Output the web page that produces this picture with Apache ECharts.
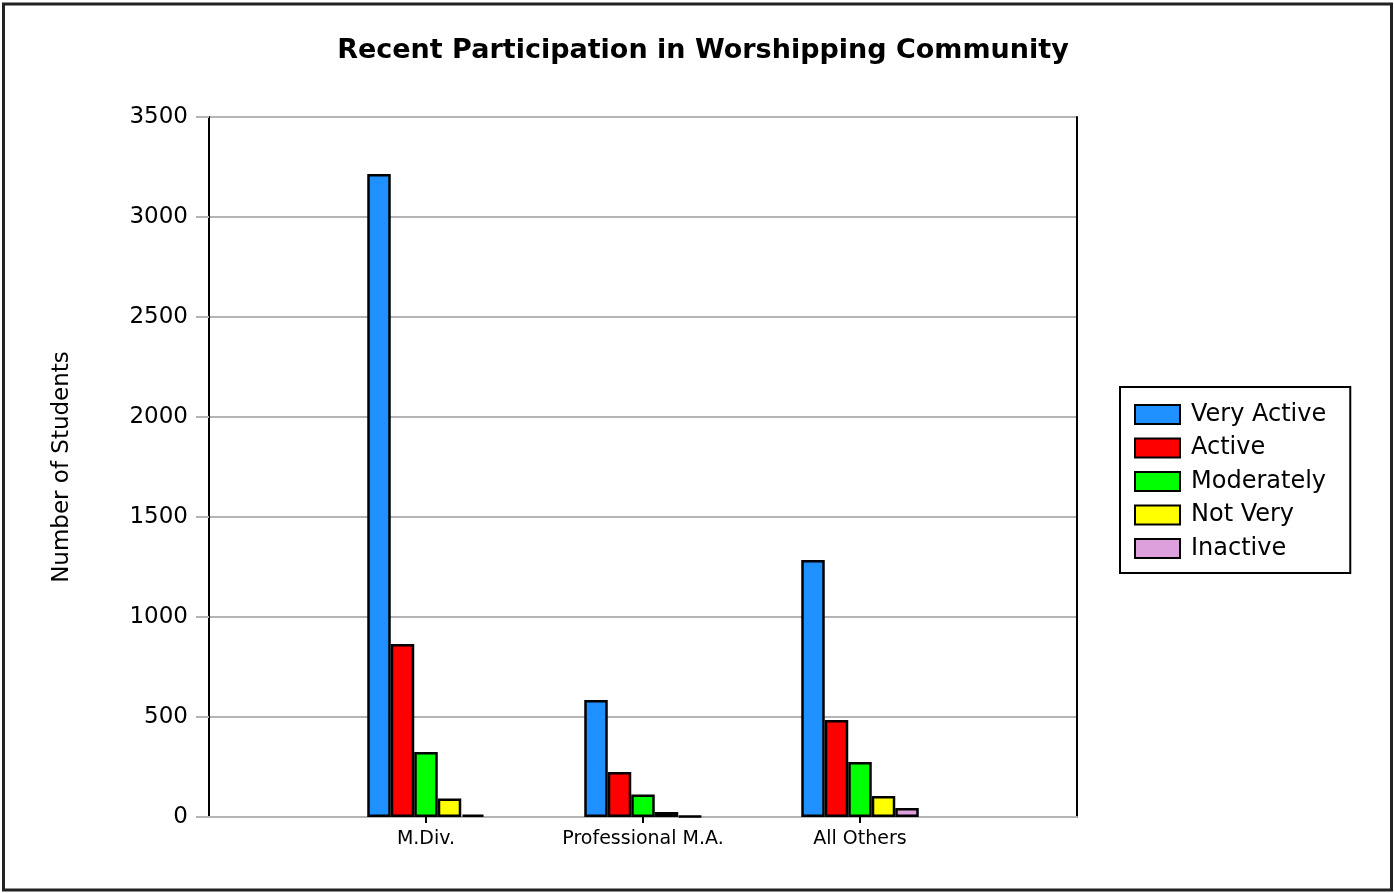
<!DOCTYPE html>
<html>
<head>
<meta charset="utf-8">
<script src="https://cdn.jsdelivr.net/npm/echarts@6/dist/echarts.min.js"></script>
<style>
html,body{margin:0;padding:0;background:#fff;}
#chart{width:1394px;height:893px;}
</style>
</head>
<body>
<div id="chart"></div>
<script>
const categories = ['M.Div.', 'Professional M.A.', 'All Others'];
const seriesNames = ['Very Active', 'Active', 'Moderately', 'Not Very', 'Inactive'];
const veryActive = [3215, 585, 1285];
const active = [865, 225, 485];
const moderately = [325, 113, 275];
const notVery = [92, 25, 105];
const inactive = [12, 4, 45];
const yTicks = [0, 500, 1000, 1500, 2000, 2500, 3000, 3500];
const colors = ['#1E90FF', '#FF0000', '#00FF00', '#FFFF00', '#DDA0DD'];

const values = [veryActive, active, moderately, notVery, inactive];
const paddedCats = [''].concat(categories, ['']);
const FONT = 'DejaVu Sans';

const chart = echarts.init(document.getElementById('chart'), null, {renderer: 'canvas'});
const option = {
  backgroundColor: '#ffffff',
  animation: false,
  title: {
    text: 'Recent Participation in Worshipping Community',
    left: 698, top: 32, textAlign: 'center',
    textStyle: {fontFamily: FONT, fontWeight: 'bold', fontSize: 27, color: '#000'}
  },
  legend: {
    orient: 'vertical',
    left: 1120, top: 387,
    data: seriesNames,
    itemWidth: 45, itemHeight: 19,
    itemGap: 9.5,
    icon: 'rect',
    padding: [15.5, 24, 12.5, 14],
    borderColor: '#000', borderWidth: 2,
    textStyle: {fontFamily: FONT, fontSize: 24, color: '#000', lineHeight: 24, padding: [0, 0, 0, 6]},
    itemStyle: {borderColor: '#000', borderWidth: 2}
  },
  grid: {left: 209, right: 317, top: 117, bottom: 76, containLabel: false},
  xAxis: {
    type: 'category',
    data: paddedCats,
    boundaryGap: false,
    axisLine: {show: true, lineStyle: {color: '#b4b4b4', width: 2}},
    axisTick: {show: true, length: 6, lineStyle: {color: '#000', width: 2},
      interval: function (idx) { return idx > 0 && idx < paddedCats.length - 1; }},
    axisLabel: {fontFamily: FONT, fontSize: 19, color: '#000', margin: 13, interval: 0},
    splitLine: {show: false}
  },
  yAxis: [{
    type: 'value',
    min: 0, max: 3500, interval: 500,
    name: 'Number of Students',
    nameLocation: 'middle',
    nameGap: 135,
    nameRotate: 90,
    nameTextStyle: {fontFamily: FONT, fontSize: 23, color: '#000'},
    axisLine: {show: true, lineStyle: {color: '#000', width: 2}},
    axisTick: {show: true, length: 13, lineStyle: {color: '#b4b4b4', width: 2}},
    axisLabel: {fontFamily: FONT, fontSize: 23, color: '#000', margin: 21,
      formatter: function (v) { return yTicks.indexOf(v) >= 0 ? String(v) : ''; }},
    splitLine: {show: true, lineStyle: {color: '#b4b4b4', width: 2}}
  }, {
    type: 'value',
    position: 'right',
    min: 0, max: 3500, interval: 500,
    axisLine: {show: true, lineStyle: {color: '#000', width: 2}},
    axisTick: {show: false},
    axisLabel: {show: false},
    splitLine: {show: false}
  }],
  series: seriesNames.map(function (name, i) {
    return {
      name: name,
      type: 'bar',
      barWidth: 23.5,
      barGap: '0%',
      data: ['-'].concat(values[i], ['-']),
      itemStyle: {color: colors[i], borderColor: '#000', borderWidth: 2.5}
    };
  }),
  graphic: [{
    type: 'rect',
    shape: {x: 3.5, y: 4, width: 1388, height: 886},
    style: {fill: null, stroke: '#222', lineWidth: 3},
    silent: true,
    z: 100
  }]
};
chart.setOption(option);
</script>
</body>
</html>
